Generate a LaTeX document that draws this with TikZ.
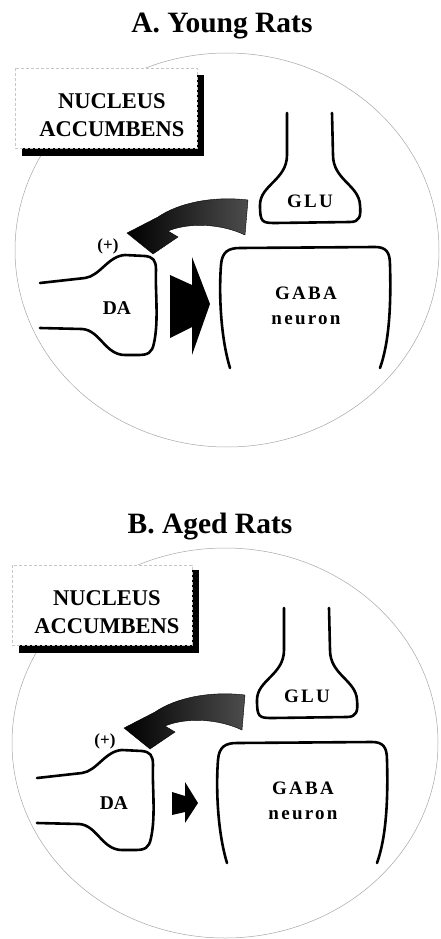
\documentclass[tikz,border=0pt]{standalone}
\usepackage{fontspec}
\setmainfont{Liberation Serif}
\newfontfamily\wideserif{Liberation Serif}[LetterSpace=12]

\begin{document}
\begin{tikzpicture}[
    x=1pt, y=-1pt,
    every node/.style={align=center, inner sep=0pt},
    heading/.style={font=\bfseries\fontsize{29.5}{34}\selectfont, anchor=base},
    region/.style={draw=gray!70, line width=0.5pt},
    tagbox/.style={draw=gray!45, densely dashed, line width=0.4pt, fill=white},
    tag/.style={font=\bfseries\fontsize{22.5}{28}\selectfont},
    membrane/.style={line width=2.6pt, line join=round, line cap=round},
    cellname/.style={font=\bfseries\fontsize{19.5}{25}\selectfont},
    spaced/.style={font=\wideserif\bfseries\fontsize{19}{25}\selectfont},
    sign/.style={font=\bfseries\fontsize{17}{19}\selectfont},
    feedback/.style={draw=black, line width=0.4pt, left color=black, right color=black!70},
    release/.style={fill=black}
]
\useasboundingbox (0,0) rectangle (440,939);

% PANEL A
\node[heading] (titleA) at (222,33) {A. Young Rats};
\draw[region] (227,250) ellipse [x radius=212, y radius=197];
\fill[black] (22,75) rectangle (204,156);
\draw[tagbox] (15,68) rectangle (197,148);
\node[tag] (nucleusA) at (112,115) {NUCLEUS\\ACCUMBENS};

% terminals
\draw[membrane] (287,113) -- (287,155) .. controls (287,180) and (260,185) .. (260,205)
    .. controls (260,222) and (262,223) .. (275,223) -- (350,222)
    .. controls (360,222) and (361,216) .. (360,205)
    .. controls (359,185) and (333,180) .. (333,155) -- (332,113);
\draw[membrane] (230,368) .. controls (220,335) and (219,290) .. (221,265)
    .. controls (222,252) and (228,248) .. (240,248) -- (375,247)
    .. controls (386,247) and (390,252) .. (390,265)
    .. controls (391,300) and (390,340) .. (380,368);
\draw[membrane] (40,283) -- (85,278) .. controls (100,276) and (108,256) .. (125,255) -- (145,256)
    .. controls (153,257) and (156,260) .. (156,270)
    .. controls (155,290) and (159,320) .. (154,343)
    .. controls (152,353) and (148,355) .. (138,355) -- (125,355)
    .. controls (105,355) and (100,330) .. (82,329) -- (40,328);
\node[spaced] (gluA) at (310,201.5) {GLU};
\node[spaced] (gabaA) at (306,306) {GABA\\neuron};
\node[cellname] (daA) at (117,308.5) {DA};
\node[sign] (plusA) at (108,246) {(+)};

% arrows
\draw[feedback] (248,200) .. controls (215,196) and (180,202) .. (158,217) -- (127,233) -- (153,254)
    -- (178,237) -- (168,231) .. controls (190,222) and (222,224) .. (245,235) -- cycle;
\fill[release] (170,275) -- (192,285) -- (192,257) -- (210,304) -- (192,355) -- (192,327) -- (170,338) -- cycle;

% PANEL B
\node[heading] (titleB) at (210,533) {B. Aged Rats};
\begin{scope}[shift={(-3,495)}]
\draw[region] (228,248) ellipse [x radius=213, y radius=195];
\fill[black] (22,75) rectangle (202,158);
\draw[tagbox] (15,70) rectangle (195,150);
\node[tag] (nucleusB) at (110,117) {NUCLEUS\\ACCUMBENS};

% terminals
\draw[membrane] (287,113) -- (287,155) .. controls (287,180) and (260,185) .. (260,205)
    .. controls (260,222) and (262,223) .. (275,223) -- (350,222)
    .. controls (360,222) and (361,216) .. (360,205)
    .. controls (359,185) and (333,180) .. (333,155) -- (332,113);
\draw[membrane] (230,368) .. controls (220,335) and (219,290) .. (221,265)
    .. controls (222,252) and (228,248) .. (240,248) -- (375,247)
    .. controls (386,247) and (390,252) .. (390,265)
    .. controls (391,300) and (390,340) .. (380,368);
\draw[membrane] (40,283) -- (85,278) .. controls (100,276) and (108,256) .. (125,255) -- (145,256)
    .. controls (153,257) and (156,260) .. (156,270)
    .. controls (155,290) and (159,320) .. (154,343)
    .. controls (152,353) and (148,355) .. (138,355) -- (125,355)
    .. controls (105,355) and (100,330) .. (82,329) -- (40,328);
\node[spaced] (gluB) at (310,201.5) {GLU};
\node[spaced] (gabaB) at (306,306) {GABA\\neuron};
\node[cellname] (daB) at (117,308.5) {DA};
\node[sign] (plusB) at (108,246) {(+)};

% arrows
\draw[feedback] (248,200) .. controls (215,196) and (180,202) .. (158,217) -- (127,233) -- (153,254)
    -- (178,237) -- (168,231) .. controls (190,222) and (222,224) .. (245,235) -- cycle;
\fill[release] (175,297) -- (188,301) -- (188,287) -- (201,308) -- (188,328) -- (188,317) -- (175,320) -- cycle;
\end{scope}

\end{tikzpicture}
\end{document}
